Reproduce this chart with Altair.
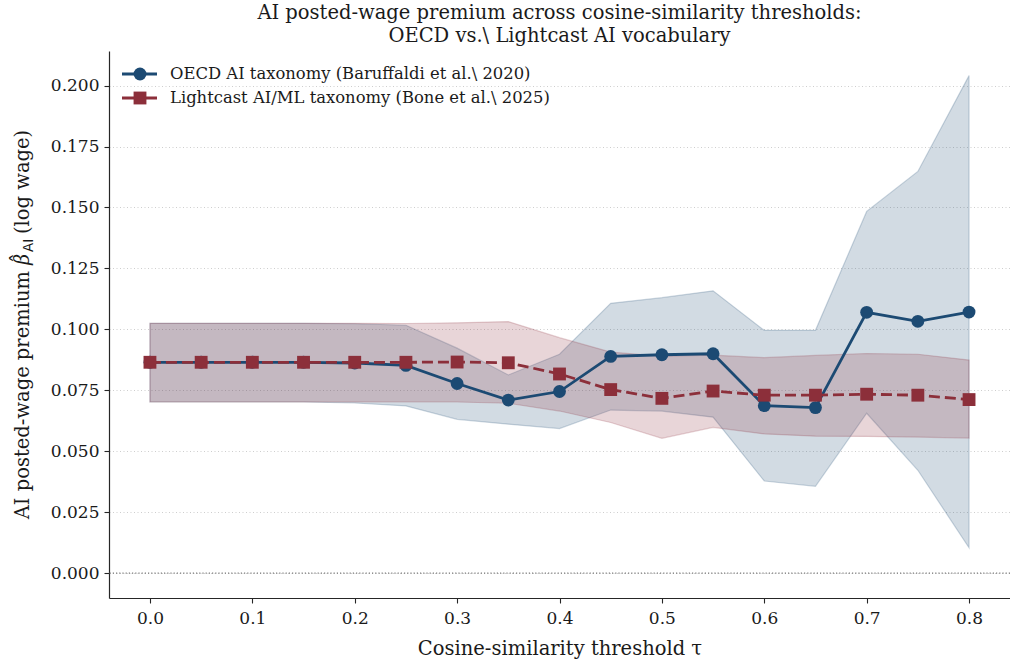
import altair as alt
import pandas as pd

# Cosine-similarity thresholds
tau = [0.0, 0.05, 0.1, 0.15, 0.2, 0.25, 0.3, 0.35, 0.4, 0.45, 0.5, 0.55, 0.6, 0.65, 0.7, 0.75, 0.8]

# OECD AI taxonomy: point estimate and 95% CI
oecd_beta = [0.0865, 0.0865, 0.0865, 0.0865, 0.0862, 0.0852, 0.0778, 0.0710, 0.0745,
             0.0889, 0.0896, 0.0900, 0.0687, 0.0679, 0.1070, 0.1033, 0.1071]
oecd_lo = [0.0702, 0.0702, 0.0702, 0.0702, 0.0698, 0.0686, 0.0631, 0.0611, 0.0593,
           0.0669, 0.0665, 0.0640, 0.0378, 0.0356, 0.0656, 0.0422, 0.0104]
oecd_hi = [0.1025, 0.1025, 0.1025, 0.1025, 0.1023, 0.1017, 0.0923, 0.0813, 0.0898,
           0.1107, 0.1130, 0.1158, 0.0996, 0.0996, 0.1484, 0.1648, 0.2041]

# Lightcast AI/ML taxonomy: point estimate and 95% CI
lc_beta = [0.0865, 0.0865, 0.0865, 0.0865, 0.0865, 0.0865, 0.0866, 0.0863, 0.0817,
           0.0753, 0.0717, 0.0747, 0.0730, 0.0730, 0.0734, 0.0730, 0.0712]
lc_lo = [0.0702, 0.0702, 0.0702, 0.0702, 0.0702, 0.0702, 0.0702, 0.0697, 0.0665,
         0.0618, 0.0553, 0.0598, 0.0571, 0.0562, 0.0561, 0.0558, 0.0554]
lc_hi = [0.1025, 0.1025, 0.1025, 0.1025, 0.1025, 0.1024, 0.1027, 0.1032, 0.0966,
         0.0907, 0.0890, 0.0894, 0.0884, 0.0893, 0.0901, 0.0898, 0.0874]

series_names = ["OECD AI taxonomy (Baruffaldi et al.\\ 2020)",
                "Lightcast AI/ML taxonomy (Bone et al.\\ 2025)"]

x_ticks = [0.0, 0.1, 0.2, 0.3, 0.4, 0.5, 0.6, 0.7, 0.8]
y_ticks = [0.0, 0.025, 0.05, 0.075, 0.1, 0.125, 0.15, 0.175, 0.2]

BLUE = "#1c4a73"
RED = "#8c2f3a"
INK = "#1a1a1a"
SERIF = "DejaVu Serif"

oecd = pd.DataFrame({"tau": tau, "beta": oecd_beta, "lo": oecd_lo, "hi": oecd_hi})
lc = pd.DataFrame({"tau": tau, "beta": lc_beta, "lo": lc_lo, "hi": lc_hi})
zero = pd.DataFrame({"level": [0.0]})

x_axis = alt.Axis(values=x_ticks, format=".1f", title="Cosine-similarity threshold τ",
                  grid=False, labelPadding=7, titlePadding=13)
y_axis = alt.Axis(values=y_ticks, format=".3f", title="", grid=True,
                  gridColor="#c8c8c8", gridDash=[1, 2.5], gridWidth=0.9, labelPadding=5)
x_scale = alt.Scale(domain=[-0.04, 0.84], nice=False, zero=False)
y_scale = alt.Scale(domain=[-0.0102, 0.2142], nice=False, zero=False)


def xenc():
    return alt.X("tau:Q", scale=x_scale, axis=x_axis)


def band(df, color):
    return alt.Chart(df).mark_area(
        color=color, fillOpacity=0.2, stroke=color, strokeOpacity=0.22, strokeWidth=1.2
    ).encode(
        x=xenc(),
        y=alt.Y("lo:Q", scale=y_scale, axis=y_axis),
        y2="hi:Q",
    )


def series(df, color, shape, dash):
    line_kw = dict(color=color, strokeWidth=2.8)
    if dash:
        line_kw["strokeDash"] = dash
    line = alt.Chart(df).mark_line(**line_kw).encode(
        x=xenc(), y=alt.Y("beta:Q", scale=y_scale, axis=y_axis)
    )
    pts = alt.Chart(df).mark_point(
        shape=shape, filled=True, size=165, color=color, opacity=1
    ).encode(x=xenc(), y=alt.Y("beta:Q", scale=y_scale, axis=y_axis))
    return line + pts


zero_line = alt.Chart(zero).mark_rule(
    color="#7a7a7a", strokeDash=[1.2, 2], strokeWidth=1.1
).encode(y=alt.Y("level:Q", scale=y_scale, axis=y_axis))


# Legend drawn by hand: line sample with marker, then label
def legend_row(name, color, shape, ypos):
    d = pd.DataFrame({"label": [name]})
    base = alt.Chart(d)
    rule = base.mark_rule(color=color, strokeWidth=2.8).encode(
        x=alt.value(13), x2=alt.value(48), y=alt.value(ypos))
    mark = base.mark_point(shape=shape, filled=True, size=165, color=color, opacity=1).encode(
        x=alt.value(31), y=alt.value(ypos))
    txt = base.mark_text(align="left", baseline="middle", font=SERIF, fontSize=16.4,
                         color=INK).encode(
        x=alt.value(61), y=alt.value(ypos), text="label:N")
    return rule + mark + txt


# Y-axis title, pieced together so the estimator symbol gets a hat and a subscript
YL_FS = 19.5
YL_X = -80          # baseline of the rotated title (relative to the plot's left edge)
YL_A = 220          # where the plain-text part ends (relative to the plot's top edge)
ylab = pd.DataFrame({"main": ["AI posted-wage premium"], "beta": ["β"], "hat": ["ˆ"],
                     "sub": ["AI"], "tail": ["(log wage)"]})
yb = alt.Chart(ylab)
ylab_main = yb.mark_text(angle=270, align="right", baseline="alphabetic", font=SERIF,
                         fontSize=YL_FS, color=INK).encode(
    x=alt.value(YL_X), y=alt.value(YL_A), text="main:N")
ylab_beta = yb.mark_text(angle=270, align="left", baseline="alphabetic", font=SERIF,
                         fontStyle="italic", fontSize=YL_FS, color=INK).encode(
    x=alt.value(YL_X), y=alt.value(YL_A - 6), text="beta:N")
ylab_hat = yb.mark_text(angle=270, align="center", baseline="alphabetic", font=SERIF,
                        fontSize=YL_FS, color=INK).encode(
    x=alt.value(YL_X - 3), y=alt.value(YL_A - 13), text="hat:N")
ylab_sub = yb.mark_text(angle=270, align="left", baseline="alphabetic", font="DejaVu Sans",
                        fontSize=13.5, color=INK).encode(
    x=alt.value(YL_X + 4), y=alt.value(YL_A - 19), text="sub:N")
ylab_tail = yb.mark_text(angle=270, align="left", baseline="alphabetic", font=SERIF,
                         fontSize=YL_FS, color=INK).encode(
    x=alt.value(YL_X), y=alt.value(YL_A - 37), text="tail:N")

chart = alt.layer(
    zero_line,
    band(oecd, BLUE),
    band(lc, RED),
    series(oecd, BLUE, "circle", None),
    series(lc, RED, "square", [11, 5]),
    legend_row(series_names[0], BLUE, "circle", 23),
    legend_row(series_names[1], RED, "square", 47),
    ylab_main, ylab_beta, ylab_hat, ylab_sub, ylab_tail,
).properties(
    width=901,
    height=547,
    padding={"left": 109, "top": 51, "right": 0, "bottom": 64},
    autosize=alt.AutoSizeParams(type="none"),
    background="white",
    title=alt.TitleParams(
        text=["AI posted-wage premium across cosine-similarity thresholds:",
              "OECD vs.\\ Lightcast AI vocabulary"],
        font=SERIF, fontSize=19.5, fontWeight="normal", color=INK,
        anchor="middle", lineHeight=23, offset=5,
    ),
).configure_view(strokeWidth=0).configure_axis(
    domainColor="#262626", domainWidth=1.2, tickColor="#262626", tickWidth=1.1, tickSize=5,
    labelFont=SERIF, labelFontSize=17, labelColor=INK,
    titleFont=SERIF, titleFontSize=19.5, titleFontWeight="normal", titleColor=INK,
)

chart.save("out.html", embed_options={"renderer": "svg", "actions": False})
